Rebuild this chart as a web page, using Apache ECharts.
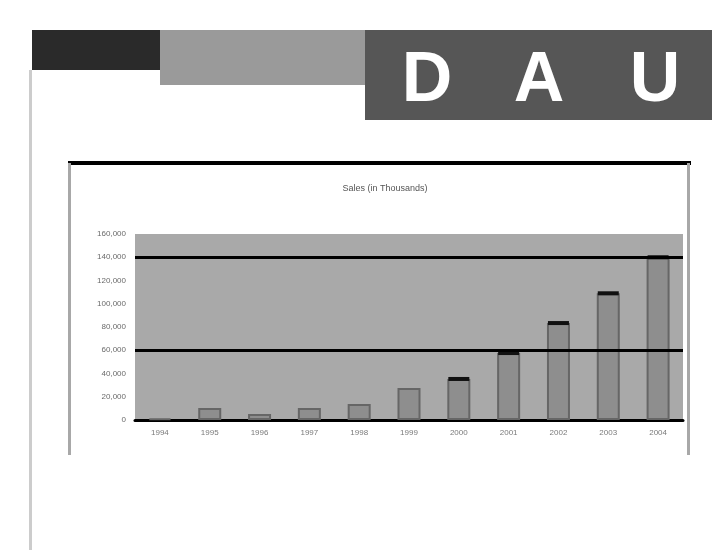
<!DOCTYPE html>
<html>
<head>
<meta charset="utf-8">
<script src="https://cdn.jsdelivr.net/npm/echarts@6/dist/echarts.min.js"></script>
<style>
  html, body { margin: 0; padding: 0; background: #ffffff; }
  #chart { width: 721px; height: 550px; }
</style>
</head>
<body>
<div id="chart"></div>
<script>
// Yearly figures plotted as columns
const years = ['1994', '1995', '1996', '1997', '1998', '1999', '2000', '2001', '2002', '2003', '2004'];
const sales = [1500, 10300, 5200, 10300, 13800, 27500, 35300, 57600, 83400, 109000, 140000];
// Value axis ticks
const yMin = 0;
const yMax = 160000;
const yStep = 20000;
// Heavy reference lines across the plot
const heavyLines = [60000, 140000];
// Columns from this year on get a dark top edge
const capFromYear = '2000';
const chartTitle = 'Sales (in Thousands)';
const logoLetters = ['D', 'A', 'U'];

const chart = echarts.init(document.getElementById('chart'), null, { renderer: 'canvas' });

const letterX = [427, 539, 655];
const labelFont = 'Arial, "Liberation Sans", sans-serif';
const capStart = years.indexOf(capFromYear);
const capData = sales.map((v, i) => (i >= capStart ? v : '-'));

chart.setOption({
  backgroundColor: '#ffffff',
  animation: false,
  title: {
    text: chartTitle,
    left: 380,
    top: 179,
    textAlign: 'center',
    textStyle: { fontSize: 9, fontWeight: 'normal', color: '#555555', fontFamily: labelFont }
  },
  grid: {
    left: 135, right: 38, top: 234, bottom: 130,
    show: true, backgroundColor: '#a9a9a9', borderWidth: 0
  },
  xAxis: {
    type: 'category',
    data: years,
    axisLine: { lineStyle: { color: '#000000', width: 3 } },
    axisTick: { show: false },
    axisLabel: { fontSize: 8, color: '#7a7a7a', margin: 9, fontFamily: labelFont }
  },
  yAxis: {
    type: 'value',
    min: yMin, max: yMax, interval: yStep,
    axisLine: { show: false },
    axisTick: { show: false },
    splitLine: { show: false },
    axisLabel: { fontSize: 8, color: '#6a6a6a', margin: 9, fontFamily: labelFont }
  },
  series: [
    {
      type: 'bar',
      data: sales,
      barWidth: 23,
      itemStyle: { color: '#8e8e8e', borderColor: '#666666', borderWidth: 2 },
      markLine: {
        silent: true,
        symbol: 'none',
        label: { show: false },
        lineStyle: { color: '#000000', width: 3, type: 'solid' },
        data: heavyLines.map(v => ({ yAxis: v }))
      }
    },
    {
      // dark top edge on the taller columns
      type: 'pictorialBar',
      data: capData,
      symbol: 'rect',
      symbolSize: [21, 4],
      symbolPosition: 'end',
      symbolOffset: [0, '-50%'],
      barGap: '-100%',
      itemStyle: { color: '#111111' },
      z: 3,
      silent: true
    }
  ],
  graphic: [
    // slide margin rule
    { type: 'rect', shape: { x: 29, y: 70, width: 3, height: 480 }, style: { fill: '#cccccc' }, silent: true },
    // header blocks
    { type: 'rect', shape: { x: 32, y: 30, width: 128, height: 40 }, style: { fill: '#2a2a2a' }, silent: true },
    { type: 'rect', shape: { x: 160, y: 30, width: 210, height: 55 }, style: { fill: '#9a9a9a' }, silent: true },
    { type: 'rect', shape: { x: 365, y: 30, width: 347, height: 90 }, style: { fill: '#565656' }, silent: true },
    ...logoLetters.map((ch, i) => ({
      type: 'text', x: letterX[i], y: 82, silent: true,
      style: {
        text: ch, fill: '#ffffff', align: 'center', verticalAlign: 'middle',
        font: 'bold 70px "Liberation Sans", Arial, sans-serif'
      }
    })),
    // chart frame
    { type: 'rect', shape: { x: 68, y: 161, width: 623, height: 4 }, style: { fill: '#000000' }, silent: true },
    { type: 'rect', shape: { x: 68, y: 163, width: 3, height: 292 }, style: { fill: '#a8a8a8' }, silent: true },
    { type: 'rect', shape: { x: 687, y: 163, width: 3, height: 292 }, style: { fill: '#a8a8a8' }, silent: true }
  ]
});
</script>
</body>
</html>
